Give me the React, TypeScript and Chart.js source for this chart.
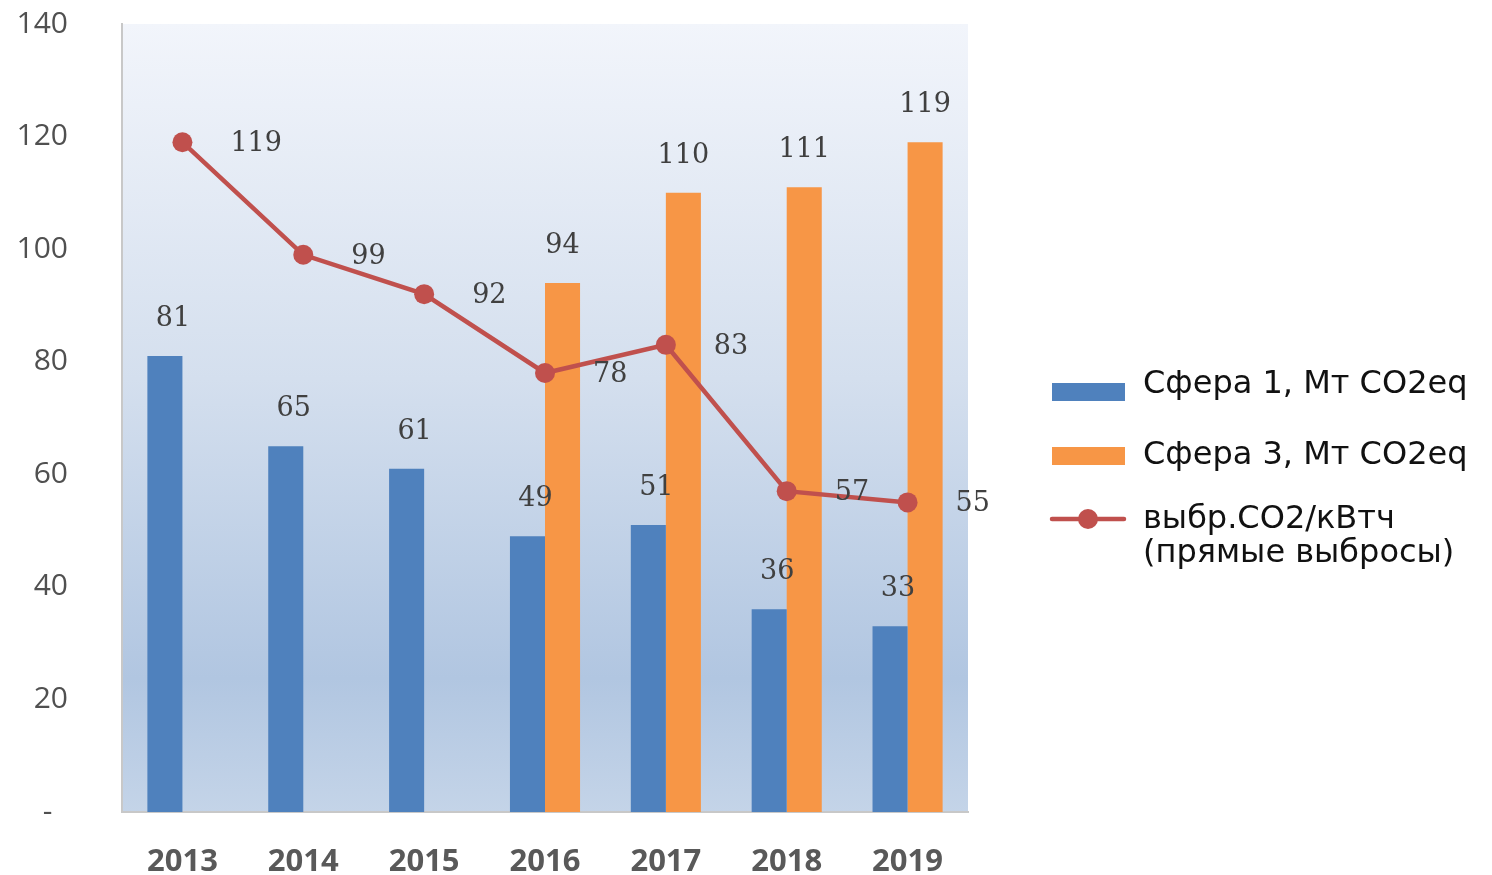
import { useEffect, useRef } from "react";
import { Chart, registerables } from "chart.js";

Chart.register(...registerables);

const years = ["2013", "2014", "2015", "2016", "2017", "2018", "2019"];
const scope1 = [81, 65, 61, 49, 51, 36, 33];
const scope3: (number | null)[] = [null, null, null, 94, 110, 111, 119];
const intensity = [119, 99, 92, 78, 83, 57, 55];
const yMin = 0;
const yMax = 140;
const yStep = 20;
const legendScope1 = "Сфера 1, Мт CO2eq";
const legendScope3 = "Сфера 3, Мт CO2eq";
const legendLine = ["выбр.CO2/кВтч", "(прямые выбросы)"];

const BLUE = "#4F81BD";
const ORANGE = "#F79646";
const RED = "#C0504D";

const bgPlugin = {
  id: "plotBg",
  beforeDraw(chart: any) {
    const { ctx, chartArea: a } = chart;
    const g = ctx.createLinearGradient(0, a.top, 0, a.bottom);
    g.addColorStop(0, "#f2f5fb");
    g.addColorStop(0.45, "#d4dfee");
    g.addColorStop(0.83, "#b1c6e1");
    g.addColorStop(1, "#c4d4e8");
    ctx.save();
    ctx.fillStyle = g;
    ctx.fillRect(a.left, a.top, a.right - a.left, a.bottom - a.top);
    ctx.restore();
  },
};

const labelPlugin = {
  id: "valueLabels",
  afterDatasetsDraw(chart: any) {
    const { ctx } = chart;
    ctx.save();
    ctx.font = "27px 'DejaVu Serif'";
    ctx.fillStyle = "#404040";
    chart.data.datasets.forEach((ds: any, di: number) => {
      const meta = chart.getDatasetMeta(di);
      meta.data.forEach((el: any, i: number) => {
        const v = ds.data[i];
        if (v === null || v === undefined) return;
        if (ds.type === "line") {
          ctx.textAlign = "left";
          ctx.textBaseline = "middle";
          ctx.fillText(String(v), el.x + 48, el.y + 2);
        } else {
          ctx.textAlign = "center";
          ctx.textBaseline = "middle";
          const dx = di === 0 ? 8 : 0;
          ctx.fillText(String(v), el.x + dx, el.y - 37);
        }
      });
    });
    ctx.restore();
  },
};

const legendPlugin = {
  id: "customLegend",
  afterDraw(chart: any) {
    const { ctx } = chart;
    ctx.save();
    ctx.font = "32px 'DejaVu Sans'";
    ctx.textAlign = "left";
    ctx.textBaseline = "alphabetic";
    // row 1
    ctx.fillStyle = BLUE;
    ctx.fillRect(1052, 383, 73, 18);
    ctx.fillStyle = "#111111";
    ctx.fillText(legendScope1, 1143, 393);
    // row 2
    ctx.fillStyle = ORANGE;
    ctx.fillRect(1052, 447, 73, 18);
    ctx.fillStyle = "#111111";
    ctx.fillText(legendScope3, 1143, 464);
    // row 3
    ctx.strokeStyle = RED;
    ctx.lineWidth = 4.5;
    ctx.lineCap = "round";
    ctx.beginPath();
    ctx.moveTo(1052, 519);
    ctx.lineTo(1124, 519);
    ctx.stroke();
    ctx.fillStyle = RED;
    ctx.beginPath();
    ctx.arc(1088, 519, 10, 0, Math.PI * 2);
    ctx.fill();
    ctx.fillStyle = "#111111";
    ctx.fillText(legendLine[0], 1143, 528);
    ctx.fillText(legendLine[1], 1143, 562);
    ctx.restore();
  },
};

export default function App() {
  const ref = useRef<HTMLCanvasElement | null>(null);

  useEffect(() => {
    if (!ref.current) return;
    const chart = new Chart(ref.current, {
      type: "bar",
      data: {
        labels: years,
        datasets: [
          {
            type: "bar",
            label: legendScope1,
            data: scope1,
            backgroundColor: BLUE,
            borderWidth: 0,
            order: 1,
            categoryPercentage: 0.58,
            barPercentage: 1,
          } as any,
          {
            type: "bar",
            label: legendScope3,
            data: scope3,
            backgroundColor: ORANGE,
            borderWidth: 0,
            order: 1,
            categoryPercentage: 0.58,
            barPercentage: 1,
          } as any,
          {
            type: "line",
            label: legendLine.join(" "),
            data: intensity,
            borderColor: RED,
            backgroundColor: RED,
            borderWidth: 4.5,
            pointRadius: 10,
            pointBackgroundColor: RED,
            pointBorderWidth: 0,
            tension: 0,
            order: 0,
          } as any,
        ],
      },
      options: {
        responsive: false,
        animation: false,
        devicePixelRatio: 1,
        layout: { padding: { left: 0, top: 24, right: 524, bottom: 0 } },
        plugins: {
          legend: { display: false },
          tooltip: { enabled: false },
        },
        scales: {
          x: {
            grid: { display: false, drawTicks: false },
            border: { display: true, color: "#c8c8c8", width: 2 },
            ticks: {
              color: "#595959",
              font: { family: "'Open Sans'", size: 31, weight: "bold" },
              padding: 32,
              maxRotation: 0,
            },
            afterFit(scale: any) {
              scale.height = 63;
              scale.paddingTop = 0;
              scale.paddingBottom = 0;
            },
          },
          y: {
            min: yMin,
            max: yMax,
            grid: { display: false, drawTicks: false },
            border: { display: true, color: "#c8c8c8", width: 2 },
            ticks: {
              stepSize: yStep,
              color: "#505050",
              font: { family: "'Open Sans'", size: 30 },
              padding: 54,
              callback: (v: any) => (Number(v) === 0 ? "-  " : String(v)),
            },
            afterFit(scale: any) {
              scale.width = 122;
              scale.paddingTop = 0;
              scale.paddingBottom = 0;
            },
          },
        },
      },
      plugins: [bgPlugin, labelPlugin, legendPlugin],
    });
    return () => chart.destroy();
  }, []);

  return (
    <div style={{ position: "absolute", left: 0, top: 0, width: 1492, height: 875, background: "#fff" }}>
      <canvas ref={ref} width={1492} height={875} style={{ display: "block", width: 1492, height: 875 }} />
    </div>
  );
}
